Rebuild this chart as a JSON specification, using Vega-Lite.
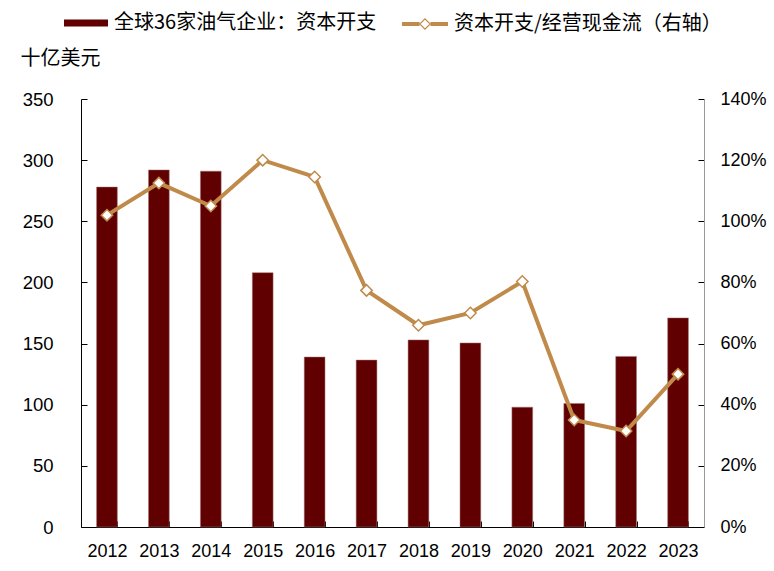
{
  "$schema": "https://vega.github.io/schema/vega-lite/v6.json",
  "autosize": "none",
  "width": 623,
  "height": 428,
  "padding": {"left": 81, "top": 99, "right": 70, "bottom": 44},
  "background": "white",
  "config": {
    "view": {"stroke": null},
    "axis": {"grid": false, "labelFont": "Liberation Sans", "labelFontSize": 18, "labelColor": "black", "domainColor": "black", "tickColor": "black"}
  },
  "data": {
    "values": [
      {"year": "2012", "capex": 278, "ratio": 102},
      {"year": "2013", "capex": 292, "ratio": 112.5},
      {"year": "2014", "capex": 291, "ratio": 105},
      {"year": "2015", "capex": 208, "ratio": 120},
      {"year": "2016", "capex": 139, "ratio": 114.5},
      {"year": "2017", "capex": 136.5, "ratio": 77.4},
      {"year": "2018", "capex": 153, "ratio": 66},
      {"year": "2019", "capex": 150.5, "ratio": 70},
      {"year": "2020", "capex": 98, "ratio": 80.3},
      {"year": "2021", "capex": 101, "ratio": 35},
      {"year": "2022", "capex": 139.5, "ratio": 31.4},
      {"year": "2023", "capex": 171, "ratio": 50}
    ]
  },
  "encoding": {
    "x": {
      "field": "year", "type": "ordinal",
      "scale": {"paddingInner": 0.6, "paddingOuter": 0.3},
      "axis": {"title": null, "labelAngle": 0, "tickBand": "extent", "tickSize": -6, "labelPadding": 21, "domainColor": "black"}
    }
  },
  "layer": [
    {
      "mark": {"type": "bar", "stroke": "#a07878", "strokeWidth": 0.5},
      "encoding": {
        "y": {
          "field": "capex", "type": "quantitative",
          "scale": {"domain": [0, 350], "nice": false},
          "axis": {
            "values": [0, 50, 100, 150, 200, 250, 300, 350],
            "tickSize": -6, "labelPadding": 34, "labelFontSize": 18.5,
            "title": "十亿美元", "titleAngle": 0, "titleX": -61, "titleY": -41,
            "titleAlign": "left", "titleBaseline": "middle",
            "titleFont": "Noto Sans CJK SC", "titleFontSize": 20, "titleFontWeight": "normal", "titleColor": "black"
          }
        },
        "color": {
          "datum": "全球36家油气企业：资本开支",
          "scale": {"range": ["#610000"]},
          "legend": {
            "title": null, "orient": "none", "legendX": -17, "legendY": -98,
            "symbolType": "M-1,-0.16H1V0.16H-1Z", "symbolSize": 1936,
            "symbolStrokeWidth": 0, "labelOffset": 6, "labelLimit": 0,
            "labelFont": "Noto Sans CJK SC", "labelFontSize": 20, "labelColor": "black", "padding": 0
          }
        }
      }
    },
    {
      "layer": [
        {
          "mark": {"type": "line", "strokeWidth": 4},
          "encoding": {
            "y": {
              "field": "ratio", "type": "quantitative",
              "scale": {"domain": [0, 140], "nice": false},
              "axis": {
                "orient": "right", "title": null,
                "values": [0, 20, 40, 60, 80, 100, 120, 140],
                "labelExpr": "datum.value + '%'",
                "tickSize": -6, "labelPadding": 22, "domainColor": "#999999"
              }
            },
            "stroke": {
              "datum": "资本开支/经营现金流（右轴）",
              "scale": {"range": ["#C08A4A"]},
              "legend": {
                "title": null, "orient": "none", "legendX": 321, "legendY": -98,
                "symbolType": "M-1,-0.087H-0.24V0.087H-1Z M0.24,-0.087H1V0.087H0.24Z M0,-0.26L0.26,0L0,0.26L-0.26,0Z M0,-0.19L-0.19,0L0,0.19L0.19,0Z",
                "symbolSize": 2116, "labelOffset": 6, "labelLimit": 0,
                "labelFont": "Noto Sans CJK SC", "labelFontSize": 20, "labelColor": "black", "padding": 0,
                "encode": {"symbols": {"update": {"fill": {"value": "#C08A4A"}, "strokeWidth": {"value": 0}, "opacity": {"value": 1}}}}
              }
            }
          }
        },
        {
          "mark": {"type": "point", "shape": "diamond", "filled": true, "fill": "white", "stroke": "#C08A4A", "strokeWidth": 1.5, "size": 130, "opacity": 1},
          "encoding": {
            "y": {"field": "ratio", "type": "quantitative"}
          }
        }
      ]
    }
  ],
  "resolve": {"scale": {"y": "independent"}}
}
